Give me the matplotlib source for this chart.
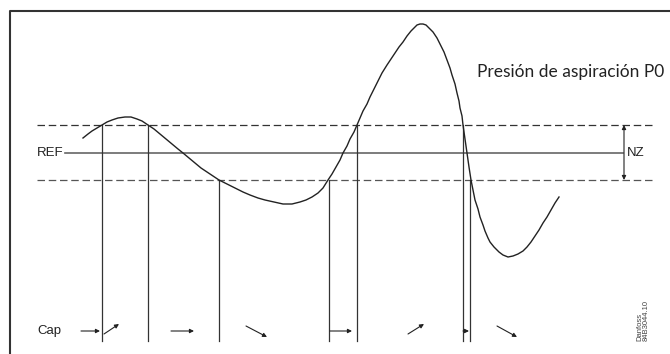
import matplotlib.pyplot as plt

# ------------ DATA (diagram units = pixels, y down) ------------
curve_x = [83, 88, 92, 97, 102, 107, 112, 118, 125, 131, 137, 142, 148, 154, 160, 166,
           172, 178, 183, 189, 195, 201, 207, 213, 219, 227, 235, 243, 250, 258,
           265, 274, 283, 292, 300, 306, 312, 318, 323, 328, 332, 336, 340, 343,
           347, 350, 354, 357, 360, 363, 367, 370, 374, 378, 382, 387, 391, 395,
           399, 403, 407, 411, 414, 417, 420, 423, 426, 429, 433, 437, 440, 444,
           447, 450, 452, 455, 457, 459, 460, 462, 463, 465, 467, 469, 471, 473,
           475, 478, 480, 483, 485, 488, 490, 494, 499, 503, 508, 513, 518, 523,
           527, 531, 535, 539, 543, 547, 551, 555, 559]
curve_y = [138, 134, 131, 128, 125, 122, 120, 118, 117, 117, 119, 121, 125, 129, 134, 139,
           144, 149, 153, 158, 163, 168, 172, 176, 180, 184, 188, 192, 195, 198,
           200, 202, 204, 204, 202, 200, 197, 193, 188, 180, 174, 167, 160, 153,
           146, 139, 132, 125, 118, 111, 104, 97, 89, 81, 73, 65, 59, 53,
           47, 42, 36, 31, 28, 25, 24, 24, 25, 28, 32, 38, 44, 52,
           60, 68, 75, 84, 93, 101, 108, 116, 125, 139, 153, 167, 180, 190,
           200, 209, 217, 225, 231, 238, 242, 247, 252, 255, 257, 256, 254, 251,
           247, 242, 236, 230, 223, 217, 210, 203, 197]

ref_level = 153
nz_upper = 125
nz_lower = 180

# switching points of the capacity (vertical lines)
switch_x = [102, 148, 219, 329, 357, 463, 470]
switch_top = [125, 125, 180, 180, 125, 125, 180]
switch_bottom = 341

# capacity arrows at the bottom: (x0, y0, x1, y1)
cap_arrows = [(81, 331, 100, 331), (104, 334, 119, 324), (171, 331, 194, 331),
              (246, 326, 267, 337), (330, 331, 352, 331), (408, 334, 424, 324),
              (463, 331, 469, 331), (497, 326, 517, 337)]

title = 'Presión de aspiración P0'

# ------------ DRAW ----------------------------
fig = plt.figure(figsize=(6.7, 3.54), dpi=100)
ax = fig.add_axes([0, 0, 1, 1])
ax.set_xlim(0, 670)
ax.set_ylim(354, 0)
ax.axis('off')

# frame (only left and top visible)
ax.plot([10, 10, 670], [354, 11, 11], color='#333333', lw=1.5, solid_capstyle='butt')

# neutral zone limits and reference
ax.plot([37, 652], [nz_upper, nz_upper], color='#333333', lw=0.9, dashes=(6, 3))
ax.plot([37, 652], [nz_lower, nz_lower], color='#555555', lw=0.9, dashes=(6, 3))
ax.plot([65, 623], [ref_level, ref_level], color='#666666', lw=1.2)

# vertical lines
for x, top in zip(switch_x, switch_top):
    ax.plot([x, x], [top, switch_bottom], color='#333333', lw=0.9)

# pressure curve
ax.plot(curve_x, curve_y, color='#222222', lw=1.0, solid_joinstyle='round')

# NZ arrow
ax.annotate('', xy=(624, nz_upper), xytext=(624, nz_lower),
            arrowprops=dict(arrowstyle='<|-|>', color='#222222', lw=0.8,
                            mutation_scale=6, shrinkA=0, shrinkB=0))

# capacity arrows
for x0, y0, x1, y1 in cap_arrows:
    ax.annotate('', xy=(x1, y1), xytext=(x0, y0),
                arrowprops=dict(arrowstyle='-|>', color='#222222', lw=0.8,
                                mutation_scale=6, shrinkA=0, shrinkB=0))

# texts
ax.text(477, 77, title, fontsize=12.5, family='Lato', color='#222222',
        ha='left', va='baseline')
ax.text(37, 153, 'REF', fontsize=9.5, family='Liberation Sans', color='#222222',
        ha='left', va='center')
ax.text(627, 153, 'NZ', fontsize=9.5, family='Liberation Sans', color='#222222',
        ha='left', va='center')
ax.text(37, 331, 'Cap', fontsize=9.5, family='Liberation Sans', color='#222222',
        ha='left', va='center')
ax.text(636, 341, 'Danfoss\n84B3044.10', fontsize=5.5, family='Liberation Sans',
        color='#444444', rotation=90, ha='left', va='bottom', linespacing=1.0)

plt.savefig('out.png', dpi=100)
